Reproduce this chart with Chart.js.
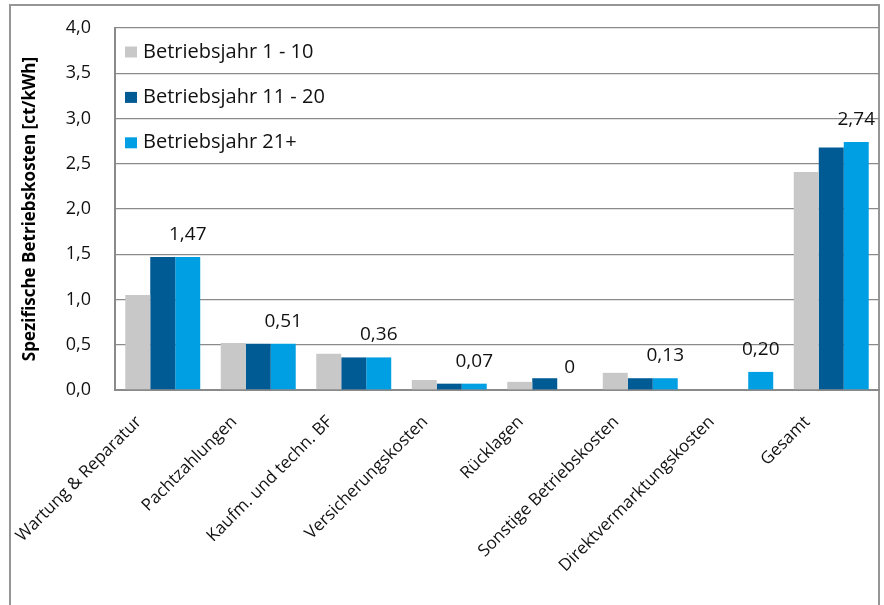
<!DOCTYPE html>
<html>
<head>
<meta charset="utf-8">
<script src="https://cdn.jsdelivr.net/npm/chart.js@4/dist/chart.umd.min.js"></script>
<style>
    body { margin: 0; background: #fff; }
    #wrap { width: 884px; height: 605px; }
</style>
</head>
<body>
<div id="wrap"><canvas id="costChart" width="884" height="605"></canvas></div>
<script>
const categories = ['Wartung & Reparatur', 'Pachtzahlungen', 'Kaufm. und techn. BF', 'Versicherungskosten',
    'Rücklagen', 'Sonstige Betriebskosten', 'Direktvermarktungskosten', 'Gesamt'];
const seriesNames = ['Betriebsjahr 1 - 10', 'Betriebsjahr 11 - 20', 'Betriebsjahr 21+'];
const year1to10 = [1.05, 0.52, 0.40, 0.11, 0.09, 0.19, 0, 2.41];
const year11to20 = [1.47, 0.51, 0.36, 0.07, 0.13, 0.13, 0, 2.68];
const year21plus = [1.47, 0.51, 0.36, 0.07, 0, 0.13, 0.20, 2.74];
const yTicks = [0, 0.5, 1.0, 1.5, 2.0, 2.5, 3.0, 3.5, 4.0];
const yTitle = 'Spezifische Betriebskosten [ct/kWh]';

const FONT = '"Open Sans", "Noto Sans", sans-serif';
const colors = ['#c8c8c8', '#005b95', '#009fe3'];

function fmtLabel(v) {
    return v === 0 ? '0' : v.toFixed(2).replace('.', ',');
}

// outer frame, legend inside the plot area, value labels over last series
const extras = {
    id: 'extras',
    beforeDraw(chart) {
        const ctx = chart.ctx;
        ctx.save();
        ctx.strokeStyle = '#969696';
        ctx.lineWidth = 2;
        ctx.strokeRect(10, 5, 869, 640);
        ctx.restore();
    },
    afterDatasetsDraw(chart) {
        const ctx = chart.ctx;
        const area = chart.chartArea;
        ctx.save();
        ctx.font = '19px ' + FONT;
        ctx.fillStyle = '#111';
        ctx.textAlign = 'center';
        ctx.textBaseline = 'alphabetic';
        const meta = chart.getDatasetMeta(2);
        meta.data.forEach(function(el, i) {
            ctx.fillText(fmtLabel(year21plus[i]), el.x, el.y - 17);
        });

        ctx.textAlign = 'left';
        ctx.font = '20px ' + FONT;
        seriesNames.forEach(function(name, i) {
            const base = area.top + 29.5 + i * 45.4;
            ctx.fillStyle = colors[i];
            ctx.fillRect(area.left + 10, base - 11, 12, 11);
            ctx.fillStyle = '#111';
            ctx.fillText(name, area.left + 28, base);
        });
        ctx.restore();
    }
};

document.addEventListener('DOMContentLoaded', function() {
    const ctx = document.getElementById('costChart').getContext('2d');
    new Chart(ctx, {
        type: 'bar',
        data: {
            labels: categories,
            datasets: [
                { label: seriesNames[0], data: year1to10, backgroundColor: colors[0] },
                { label: seriesNames[1], data: year11to20, backgroundColor: colors[1] },
                { label: seriesNames[2], data: year21plus, backgroundColor: colors[2] }
            ]
        },
        options: {
            responsive: false,
            animation: false,
            layout: { padding: { left: 10, top: 28, right: 5, bottom: 0 } },
            datasets: {
                bar: { categoryPercentage: 0.785, barPercentage: 1.0, borderWidth: 0 }
            },
            plugins: {
                legend: { display: false },
                tooltip: { enabled: false }
            },
            scales: {
                x: {
                    grid: { display: false },
                    border: { display: true, color: '#8a8a8a', width: 2 },
                    ticks: {
                        autoSkip: false,
                        minRotation: 45,
                        maxRotation: 45,
                        padding: 14,
                        labelOffset: -24,
                        color: '#111',
                        font: { family: FONT, size: 17 }
                    },
                    afterFit: function(scale) { scale.height = 215; }
                },
                y: {
                    min: 0,
                    max: 4,
                    afterBuildTicks: function(scale) {
                        scale.ticks = yTicks.map(function(v) { return { value: v }; });
                    },
                    // invisible tick marks give the gap between labels and axis
                    grid: { color: '#8a8a8a', lineWidth: 1.3, drawTicks: true, tickLength: 24, tickColor: 'rgba(0,0,0,0)' },
                    border: { display: true, color: '#8a8a8a', width: 2 },
                    ticks: {
                        padding: 0,
                        color: '#111',
                        font: { family: FONT, size: 18 },
                        callback: function(v) { return v.toFixed(1).replace('.', ','); }
                    },
                    title: {
                        display: true,
                        text: yTitle,
                        color: '#000',
                        padding: { top: 10, bottom: 0 },
                        font: { family: FONT, size: 17, weight: 'bold' }
                    },
                    afterFit: function(scale) { scale.width = 105; }
                }
            }
        },
        plugins: [extras]
    });
});
</script>
</body>
</html>
